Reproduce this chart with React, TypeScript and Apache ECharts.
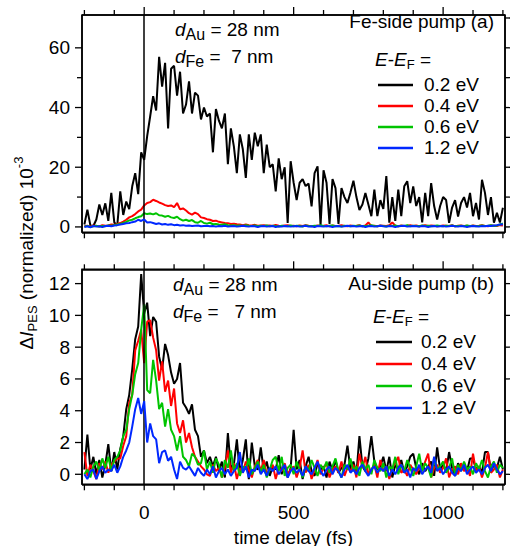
import React, { useEffect, useRef } from "react";
import * as echarts from "echarts";

const FONT = '"Liberation Sans", Arial, Helvetica, sans-serif';

// time grid (fs)
const delayStart = -200;
const delayStep = 10;
const delayCount = 141;
const delays = Array.from({ length: delayCount }, (_, i) => delayStart + i * delayStep);

// axis tick values
const xTickValues = [-200, -100, 0, 100, 200, 300, 400, 500, 600, 700, 800, 900, 1000, 1100, 1200];
const xMajorTicks = [0, 500, 1000];
const xTickLabels = ["0", "500", "1000"];
const topYLabels = [0, 20, 40, 60];
const topYMinor = [10, 30, 50];
const topYRight = [0, 10, 20, 30, 40, 50, 60, 70];
const botYLabels = [0, 2, 4, 6, 8, 10, 12];

const energies = ["0.2 eV", "0.4 eV", "0.6 eV", "1.2 eV"];

// (a) Fe-side pump, values in 10^-3
const topE02 = [
  0.8, 5.8, 0.5, 0.3, 2.5, 7.5, 4, 7.9, 2, 11.4,
  1.5, 0.5, 11.9, 4, 8.5, 6, 13.6, 18, 11, 25,
  22.5, 30.4, 37, 43.8, 39, 57, 47, 55, 33, 53,
  54, 44, 52, 38, 41, 48.8, 38, 45, 44, 36,
  40, 37, 38, 25, 39.5, 35.6, 33, 38, 21, 33,
  27, 18, 31, 26, 16.4, 31, 22.5, 31.6, 27, 31,
  18, 27.6, 20, 21, 11.9, 23, 16, 20, 1.3, 22,
  14.8, 9, 14.8, 16, 13.7, 14.5, 6.9, 18, 20.3, 0.5,
  19, 14.8, 1, 16, 13, 1, 13, 10, 8, 11.5,
  15.5, 10, 5.7, 7.5, 11.4, 7.5, 3.6, 12.5, 3.6, 9,
  6, 17, 1.4, 10, 2, 12.5, 3.6, 13.6, 15.3, 8,
  13.6, 7, 10, 1.5, 11.4, 3.6, 14.7, 7, 2.5, 7,
  10, 9, 1.4, 6.5, 9, 3.5, 8, 10, 6.5, 11.4,
  3.6, 8, 2.5, 15.8, 11.4, 4, 10, 1.4, 4.7, 1.5,
  6.4,
];
const topE04 = [
  0.2, 0.4, 0.1, 0.5, 0.3, 0.2, 0.6, 0.4, 0.5, 0.8,
  0.7, 1.0, 1.3, 1.8, 2.4, 3.2, 3.6, 4.3, 5.2, 5.8,
  7.2, 8.0, 8.3, 9.1, 8.7, 8.2, 7.8, 7.3, 7.0, 7.2,
  6.6, 8.0, 5.9, 6.2, 5.5, 4.6, 4.1, 4.8, 4.3, 3.2,
  3.0, 2.6, 2.4, 2.0, 2.1, 1.7, 1.5, 1.3, 1.2, 1.0,
  1.1, 0.9, 0.8, 0.6, 0.8, 0.6, 0.5, 0.7, 0.4, 0.5,
  0.6, 0.4, 0.5, 0.3, 0.7, 0.4, 0.3, 0.5, 0.6, 0.3,
  0.4, 0.2, 0.5, 0.3, 0.6, 0.4, 0.3, 0.2, 0.5, 0.3,
  0.4, 0.6, 0.2, 0.5, 0.3, 0.4, 0.6, 0.3, 0.2, 0.5,
  0.3, 0.4, 0.6, 0.2, 0.5, 1.5, 0.3, 0.4, 0.2, 0.5,
  0.4, 0.3, 0.6, 1.5, 0.4, 0.2, 0.5, 0.3, 0.4, 0.6,
  0.3, 0.5, 0.2, 0.4, 0.6, 0.3, 0.5, 0.4, 0.2, 0.3,
  0.5, 0.4, 0.3, 0.6, 0.2, 0.4, 0.5, 0.3, 0.4, 0.2,
  0.5, 0.3, 0.4, 0.6, 0.3, 0.2, 0.5, 0.4, 0.3, 0.6,
  0.5,
];
const topE06 = [
  0.1, 0.3, 0.0, 0.2, 0.4, 0.1, 0.3, 0.2, 0.5, 0.4,
  0.6, 0.8, 1.0, 1.3, 1.7, 2.2, 2.4, 2.9, 3.3, 3.6,
  4.6, 4.3, 4.5, 4.2, 4.6, 3.9, 3.8, 3.4, 3.7, 3.2,
  3.0, 3.4, 2.6, 2.1, 2.4, 2.0, 2.3, 1.6, 1.4, 2.0,
  1.3, 1.1, 1.4, 0.9, 1.0, 0.8, 0.7, 0.9, 0.6, 0.5,
  0.6, 0.4, 0.5, 0.3, 0.6, 0.4, 0.3, 0.5, 0.2, 0.4,
  0.3, 0.5, 0.2, 0.4, 0.3, 0.1, 0.4, 0.3, 0.2, 0.5,
  0.2, 0.4, 0.3, 0.1, 0.5, 0.3, 0.2, 0.4, 0.3, 0.6,
  0.3, 0.2, 0.4, 0.5, 0.2, 0.3, 0.1, 0.4, 0.3, 0.2,
  0.4, 0.3, 0.5, 0.2, 0.3, 0.4, 0.6, 0.3, 0.2, 0.4,
  0.3, 0.1, 0.4, 0.3, 0.5, 0.2, 0.4, 0.3, 0.6, 0.2,
  0.4, 0.3, 0.2, 0.5, 0.3, 0.4, 0.2, 0.3, 0.5, 0.3,
  0.2, 0.4, 0.3, 0.5, 0.2, 0.3, 0.4, 0.2, 0.5, 0.3,
  0.4, 0.2, 0.3, 0.5, 0.3, 0.4, 0.6, 0.3, 0.5, 0.8,
  1.2,
];
const topE12 = [
  0.0, 0.2, -0.1, 0.3, 0.1, 0.2, 0.0, 0.3, 0.4, 0.2,
  0.5, 0.6, 0.8, 1.0, 1.2, 1.3, 1.6, 1.8, 2.4, 2.0,
  2.5, 1.5, 1.6, 1.3, 1.0, 1.2, 0.8, 1.0, 0.7, 0.9,
  0.6, 0.7, 0.5, 0.6, 0.4, 0.5, 0.3, 0.4, 0.5, 0.2,
  0.3, 0.4, 0.2, 0.3, 0.1, 0.3, 0.2, 0.4, 0.1, 0.2,
  0.3, 0.1, 0.2, 0.4, 0.2, 0.1, 0.3, 0.2, 0.0, 0.2,
  0.3, 0.1, 0.2, 0.3, 0.0, 0.2, 0.1, 0.3, 0.2, 0.1,
  0.2, 0.3, 0.1, 0.2, 0.4, 0.1, 0.2, 0.0, 0.3, 0.2,
  0.1, 0.3, 0.2, 0.0, 0.2, 0.3, 0.1, 0.2, 0.4, 0.2,
  0.3, 0.1, 0.2, 0.3, 0.0, 0.2, 0.3, 0.1, 0.2, 0.4,
  0.2, 0.1, 0.3, 0.2, 0.0, 0.2, 0.3, 0.4, 0.1, 0.2,
  0.3, 0.2, 0.1, 0.3, 0.2, 0.0, 0.2, 0.3, 0.1, 0.2,
  0.3, 0.1, 0.2, 0.4, 0.2, 0.1, 0.3, 0.2, 0.0, 0.2,
  0.3, 0.2, 0.1, 0.3, 0.2, 0.4, 0.3, 0.5, 0.6, 0.8,
  0.9,
];

// (b) Au-side pump, values in 10^-3
const botE02 = [
  0.3, 2.5, 0.3, 1.1, 0.0, 0.9, -0.2, 0.6, 1.9, 0.2,
  1.4, 0.3, 1.6, 2.4, 4.1, 5.0, 6.6, 8.5, 9.3, 12.6,
  10.1, 10.8, 8.7, 9.9, 9.6, 7.4, 6.6, 8.2, 7.5, 6.4,
  5.7, 6.0, 7.0, 4.5, 4.2, 3.8, 4.4, 2.8, 2.4, 1.1,
  1.5, 0.7, 1.1, 0.5, 1.1, 0.2, 0.8, -0.2, 2.6, 0.4,
  0.6, 2.2, 0.1, 0.9, 2.2, -0.3, 2.0, 0.5, 0.3, 1.7,
  0.2, 0.8, -0.1, 0.5, 0.3, 1.2, 0.0, 0.6, -0.2, 0.4,
  2.8, 0.3, 0.9, -0.3, 0.5, 1.1, 0.2, -0.1, 0.7, 0.3,
  0.5, -0.2, 0.8, 0.2, 0.9, 0.1, 0.4, 0.6, 1.8, 0.3,
  0.8, 0.0, 2.4, 0.5, 0.2, 1.0, 2.4, 0.8, 0.3, 0.5,
  1.1, 0.2, 1.1, -0.2, 0.6, 0.3, 0.9, 0.1, 0.5, 1.1,
  1.3, 0.4, 0.0, 0.7, 0.2, 0.5, 0.8, -0.1, 1.7, 0.3,
  0.6, 0.2, 1.4, 0.4, -0.1, 0.7, 0.3, 0.5, 0.2, 1.0,
  1.0, 0.3, 0.5, 0.1, 1.4, 1.4, 0.2, 0.6, 0.4, 1.1,
  0.3,
];
const botE04 = [
  1.4, -0.1, 0.6, 0.2, -0.3, 0.7, 0.3, 0.8, 0.1, 0.6,
  0.8, 1.0, 1.0, 1.8, 2.4, 4.5, 5.0, 7.8, 8.4, 9.1,
  7.0, 9.6, 9.7, 8.6, 7.8, 5.9, 7.1, 5.2, 5.9, 4.3,
  5.4, 3.2, 2.6, 3.4, 2.0, 2.6, 1.7, 1.1, 0.8, 0.5,
  0.3, 0.0, -0.1, 0.6, 0.2, 0.4, -0.2, 0.4, 1.5, 0.1,
  0.7, -0.3, 0.4, 0.1, 0.8, 0.3, -0.2, 0.5, 0.9, 0.2,
  0.9, 0.0, 0.3, 0.6, -0.3, 0.4, 0.2, 0.7, 0.0, 0.3,
  0.5, -0.2, 0.4, 1.5, 0.1, 0.6, -0.3, 0.3, 0.9, 0.0,
  0.4, 0.7, -0.2, 0.3, 0.5, 0.1, 0.8, -0.1, 0.4, 0.2,
  0.6, -0.2, 1.3, 0.4, 1.1, 0.0, 0.3, 0.6, -0.2, 0.9,
  0.2, 0.5, -0.3, 0.4, 0.7, 1.1, 0.1, 0.3, -0.1, 0.6,
  0.3, 0.0, 0.5, 0.2, 0.8, 1.3, -0.2, 0.4, 0.6, 0.1,
  0.4, 1.0, -0.2, 0.3, 0.5, 0.0, 0.7, 0.2, 0.4, -0.1,
  1.3, 0.2, 0.5, -0.2, 0.4, 1.4, 0.1, 0.3, 0.6, -0.2,
  0.3,
];
const botE06 = [
  0.0, 0.3, -0.2, 0.5, 0.8, 0.2, 1.0, 0.4, 1.1, 0.2,
  0.9, 1.1, 1.5, 2.4, 2.8, 4.1, 5.0, 6.3, 7.0, 9.1,
  10.7, 5.3, 5.1, 7.2, 5.9, 4.1, 4.5, 3.0, 4.1, 2.8,
  2.4, 1.5, 2.4, 1.1, 0.9, 0.5, 1.3, 1.1, 0.6, 0.7,
  1.5, 0.3, 0.8, 0.1, 1.0, 0.6, -0.2, 0.9, 0.4, 1.5,
  0.2, 0.7, -0.1, 0.5, 0.3, 1.0, 0.0, 0.4, 0.8, 0.1,
  0.6, -0.2, 0.3, 0.9, 1.1, 0.2, 1.1, -0.1, 0.4, 0.6,
  0.0, 0.8, 0.3, -0.2, 0.5, 0.2, 0.9, 0.4, -0.1, 0.6,
  0.3, 0.8, 0.1, 0.5, 1.0, 0.2, -0.2, 0.6, 0.3, 1.0,
  0.2, 0.5, -0.1, 0.8, 0.3, 0.6, 0.0, 0.9, 0.4, 0.2,
  0.7, -0.2, 0.5, 0.3, 1.1, 0.0, 0.6, 0.2, 0.9, 0.4,
  -0.1, 0.5, 1.3, 0.2, 0.7, 0.4, -0.2, 1.0, 0.3, 0.5,
  0.8, 0.1, 0.4, 1.0, -0.1, 0.6, 0.2, 0.8, 0.3, 0.5,
  0.0, 0.7, 0.3, 0.9, 0.2, -0.2, 0.5, 0.8, 0.1, 0.6,
  0.4,
];
const botE12 = [
  0.0, -0.3, 0.2, 0.3, -0.3, 0.2, 0.5, 0.1, 0.3, 0.2,
  0.6, 0.1, 0.5, 1.1, 1.5, 2.0, 3.0, 4.1, 4.8, 3.8,
  4.6, 2.0, 3.2, 2.4, 2.2, 0.7, 1.4, 1.5, 0.85, 1.1,
  0.3, -0.3, 0.8, 0.4, 0.3, 0.5, 0.2, -0.1, 0.4, 0.1,
  -0.1, 0.3, 0.0, 0.5, -0.2, 0.2, 0.4, 0.0, 0.3, -0.1,
  0.2, 0.4, 1.4, 0.1, 0.5, -0.2, 0.3, 0.2, 0.6, 0.0,
  0.3, -0.1, 0.4, 0.2, 0.5, 0.0, 0.3, 0.6, -0.2, 0.2,
  0.4, 0.1, 0.3, -0.1, 0.5, 0.2, 0.0, 0.4, 0.8, 0.2,
  -0.1, 0.3, 0.5, 0.0, 0.4, 0.2, -0.2, 0.3, 0.6, 0.1,
  0.3, 0.0, 0.4, 0.6, 0.2, -0.1, 0.3, 0.5, 0.1, 0.4,
  0.2, 0.5, -0.1, 0.3, 0.0, 0.4, 0.6, 0.1, 0.3, -0.2,
  0.4, 0.2, 0.6, 0.0, 0.3, 0.5, 0.1, 1.1, 0.2, 0.4,
  0.0, 0.3, 0.5, 0.1, -0.1, 0.4, 0.2, 0.6, 0.0, 0.3,
  0.5, 0.1, 0.3, 0.0, 0.4, 0.6, 0.2, 0.7, 0.3, 0.0,
  0.2,
];

const topSeries = [topE02, topE04, topE06, topE12];
const botSeries = [botE02, botE04, botE06, botE12];
const COLORS = ["#000000", "#ff0000", "#00c400", "#0028ff"];

// ---------- text helpers ----------
let measureCtx: CanvasRenderingContext2D | null = null;
function measure(text: string, size: number, italic: boolean): number {
  if (!measureCtx) measureCtx = document.createElement("canvas").getContext("2d");
  if (!measureCtx) return text.length * size * 0.55;
  measureCtx.font = `${italic ? "italic " : ""}${size}px ${FONT}`;
  return measureCtx.measureText(text).width;
}
type Part = { t: string; s?: number; i?: boolean; dy?: number };
function run(parts: Part[], x: number, y: number, align: "left" | "center" | "right" = "left") {
  const widths = parts.map((p) => measure(p.t, p.s ?? 19, !!p.i));
  const total = widths.reduce((a, b) => a + b, 0);
  let cx = align === "left" ? x : align === "center" ? x - total / 2 : x - total;
  return parts.map((p, k) => {
    const el = {
      type: "text",
      x: cx,
      y: y + (p.dy ?? 0),
      silent: true,
      style: {
        text: p.t,
        fontSize: p.s ?? 19,
        fontFamily: FONT,
        fontStyle: p.i ? "italic" : "normal",
        fill: "#000",
        textAlign: "left",
        textVerticalAlign: "middle",
        verticalAlign: "middle",
      },
    };
    cx += widths[k];
    return el;
  });
}

const X_MIN = -208;
const X_MAX = 1207;
const GRIDS = [
  { left: 82, top: 15, width: 423, height: 217.3, yMin: -1.8, yMax: 71 },
  { left: 82, top: 269.3, width: 423, height: 215, yMin: -0.63, yMax: 12.9 },
];

function makeSeries(values: number[][], g: number) {
  const G = GRIDS[g];
  return values.map((vals, k) => ({
    type: "line",
    name: energies[k],
    xAxisIndex: g,
    yAxisIndex: g,
    data: delays.map((t, i) => [t, vals[i]]),
    symbol: "none",
    showSymbol: false,
    clip: false,
    z: 2 + k,
    lineStyle: { color: COLORS[k], width: 2 },
    itemStyle: { color: COLORS[k] },
    markLine:
      k === 0
        ? {
            silent: true,
            symbol: ["none", "none"],
            label: { show: false },
            lineStyle: { color: "#000", width: 1.5, type: "solid" },
            data: [{ xAxis: 0 }, { xAxis: X_MIN }, { xAxis: X_MAX }, { yAxis: G.yMin }, { yAxis: G.yMax }],
          }
        : undefined,
  }));
}

function legendBlock(headerX: number, headerY: number, lineX1: number, lineX2: number, textX: number, y0: number, dy: number) {
  const els: any[] = [];
  els.push(
    ...run(
      [{ t: "E", i: true }, { t: "-" }, { t: "E", i: true }, { t: "F", s: 13, dy: 5 }, { t: " =" }],
      headerX,
      headerY
    )
  );
  energies.forEach((e, k) => {
    const y = y0 + dy * k;
    els.push({
      type: "line",
      silent: true,
      shape: { x1: lineX1, y1: y + 1, x2: lineX2, y2: y + 1 },
      style: { stroke: COLORS[k], lineWidth: 2.5 },
    });
    els.push(...run([{ t: e }], textX, y));
  });
  return els;
}

function tick(x1: number, y1: number, x2: number, y2: number) {
  return { type: "line", silent: true, shape: { x1, y1, x2, y2 }, style: { stroke: "#000", lineWidth: 1.3 } };
}

// outward ticks of one panel, on the same linear scale as the panel's axes
function panelTicks(g: number, yLeft: number[], yLeftMinor: number[], yRight: number[], xLabels: boolean) {
  const G = GRIDS[g];
  const px = (v: number) => G.left + ((v - X_MIN) / (X_MAX - X_MIN)) * G.width;
  const py = (v: number) => G.top + G.height - ((v - G.yMin) / (G.yMax - G.yMin)) * G.height;
  const l = G.left;
  const r = G.left + G.width;
  const t = G.top;
  const b = G.top + G.height;
  const els: any[] = [];
  xTickValues.forEach((v) => {
    const x = px(v);
    const major = xMajorTicks.includes(v);
    els.push(tick(x, b, x, b + 6));
    els.push(tick(x, t, x, t - (major ? 8 : 5)));
  });
  yLeft.forEach((v) => els.push(tick(l, py(v), l - 7, py(v))));
  yLeftMinor.forEach((v) => els.push(tick(l, py(v), l - 5, py(v))));
  yRight.forEach((v) => els.push(tick(r, py(v), r + 5, py(v))));
  if (xLabels) {
    xMajorTicks.forEach((v, k) => els.push(...run([{ t: xTickLabels[k] }], px(v), 512, "center")));
  }
  return els;
}

const labelStyle = { fontSize: 19, fontFamily: FONT, color: "#000" };

export default function App() {
  const ref = useRef<HTMLDivElement>(null);
  useEffect(() => {
    if (!ref.current) return;
    const chart = echarts.init(ref.current, undefined, { renderer: "svg" });

    const graphics: any[] = [
      ...panelTicks(0, topYLabels, topYMinor, topYRight, false),
      ...panelTicks(1, botYLabels, [], botYLabels, true),
      // panel (a) annotations
      ...run([{ t: "d", i: true }, { t: "Au", s: 16, dy: 5 }, { t: " = 28 nm" }], 175, 29),
      ...run([{ t: "d", i: true }, { t: "Fe", s: 16, dy: 5 }, { t: " =  7 nm" }], 175, 56),
      ...run([{ t: "Fe-side pump (a)" }], 494, 21, "right"),
      ...legendBlock(375, 59, 378, 413, 424, 84, 21),
      // panel (b) annotations
      ...run([{ t: "d", i: true }, { t: "Au", s: 16, dy: 5 }, { t: " = 28 nm" }], 173, 284),
      ...run([{ t: "d", i: true }, { t: "Fe", s: 16, dy: 5 }, { t: " =   7 nm" }], 173, 311),
      ...run([{ t: "Au-side pump (b)" }], 494, 283, "right"),
      ...legendBlock(373, 316, 376, 412, 421, 341, 22),
      // y-axis title (rotated)
      {
        type: "group",
        x: 26,
        y: 253,
        rotation: Math.PI / 2,
        children: run(
          [
            { t: "\u0394" },
            { t: "I", i: true },
            { t: "PES", s: 13, dy: 6 },
            { t: " (normalized) 10" },
            { t: "-3", s: 13, dy: -8 },
          ],
          0,
          0,
          "center"
        ),
      },
      // x-axis title
      ...run([{ t: "time delay (fs)" }], 293.5, 537, "center"),
    ];

    const option: any = {
      animation: false,
      backgroundColor: "#ffffff",
      grid: GRIDS.map((G) => ({
        left: G.left,
        top: G.top,
        width: G.width,
        height: G.height,
        show: true,
        borderColor: "#000",
        borderWidth: 1.5,
        backgroundColor: "transparent",
      })),
      xAxis: GRIDS.map((_, g) => ({
        gridIndex: g,
        type: "value",
        min: X_MIN,
        max: X_MAX,
        axisLine: { show: false },
        axisTick: { show: false },
        splitLine: { show: false },
        axisLabel: { show: false },
      })),
      yAxis: [
        {
          gridIndex: 0, type: "value", min: GRIDS[0].yMin, max: GRIDS[0].yMax,
          axisLine: { show: false }, axisTick: { show: false }, splitLine: { show: false },
          axisLabel: { show: true, customValues: topYLabels, margin: 12, ...labelStyle },
        },
        {
          gridIndex: 1, type: "value", min: GRIDS[1].yMin, max: GRIDS[1].yMax,
          axisLine: { show: false }, axisTick: { show: false }, splitLine: { show: false },
          axisLabel: { show: true, customValues: botYLabels, margin: 12, ...labelStyle },
        },
      ],
      series: [...makeSeries(topSeries, 0), ...makeSeries(botSeries, 1)],
      graphic: { elements: graphics },
    };
    chart.setOption(option);
    return () => chart.dispose();
  }, []);
  return (
    <div
      ref={ref}
      style={{ position: "fixed", left: 0, top: 0, width: 513, height: 546, background: "#fff" }}
    />
  );
}
